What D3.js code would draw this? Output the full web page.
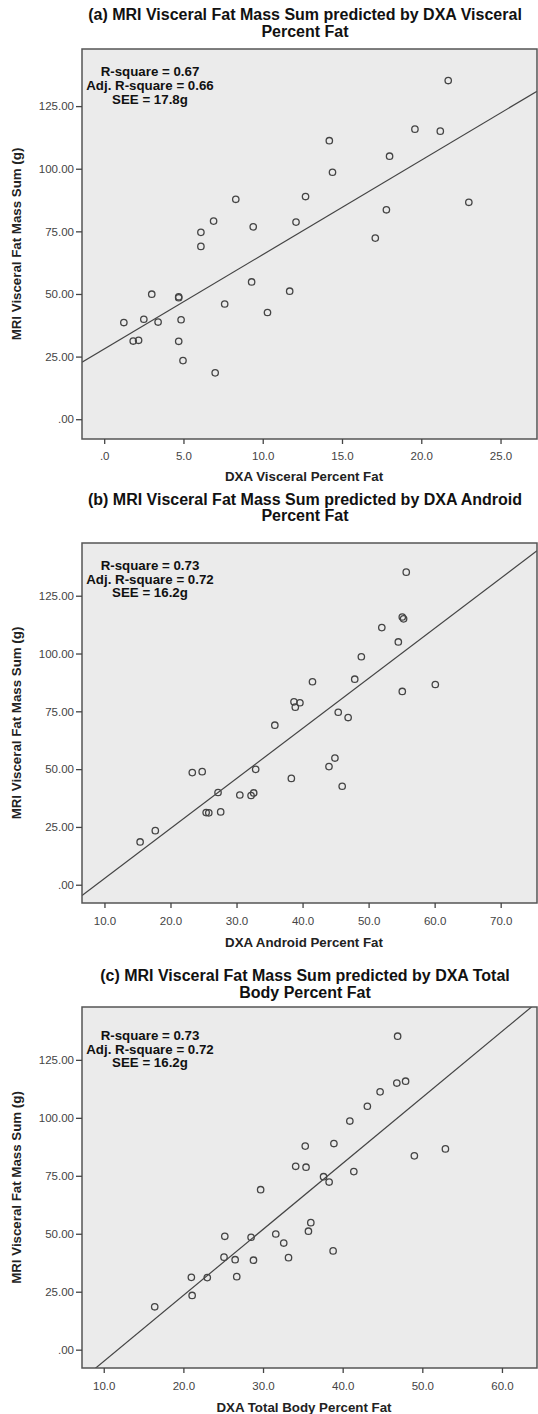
<!DOCTYPE html>
<html>
<head>
<meta charset="utf-8">
<script src="https://cdn.jsdelivr.net/npm/d3@7"></script>
<style>
  html, body { margin: 0; padding: 0; background: #ffffff; }
  svg { display: block; }
  text { font-family: "Liberation Sans", Arial, sans-serif; }
</style>
</head>
<body>
<svg id="chart" width="538" height="1414"></svg>
<script>
// ---------- DATA ----------
const mriVisceralFat = [135.2,115.8,115.0,111.2,105.0,98.6,88.9,87.8,86.6,83.6,79.1,78.7,76.8,74.6,72.3,69.0,54.8,51.1,49.9,48.9,48.5,46.0,42.6,39.9,39.7,38.8,38.6,31.5,31.2,31.1,23.4,18.5];
const dxaVisceralPct = [21.7,19.6,21.2,14.2,18.0,14.4,12.7,8.3,23.0,17.8,6.9,12.1,9.4,6.1,17.1,6.1,9.3,11.7,3.0,4.7,4.7,7.6,10.3,2.5,4.85,3.4,1.24,2.17,1.83,4.7,4.97,7.0];
const dxaAndroidPct  = [55.7,55.1,55.3,52.0,54.5,48.9,47.9,41.5,60.1,55.1,38.7,39.6,38.9,45.4,46.9,35.8,44.9,44.0,32.9,24.8,23.3,38.3,46.0,27.2,32.6,30.5,32.2,27.6,25.4,25.8,17.7,15.4];
const dxaTotalPct    = [46.9,47.9,46.8,44.7,43.1,40.9,38.9,35.3,52.9,49.0,34.1,35.4,41.4,37.6,38.3,29.7,36.0,35.7,31.6,25.2,28.5,32.6,38.8,25.1,33.2,26.5,28.8,26.7,21.0,23.0,21.1,16.4];

// fitted regression lines as drawn in the picture: [intercept, slope]
const fitLineA = [28.0, 3.77];
const fitLineB = [-19.0, 2.165];
const fitLineC = [-33.5, 2.846];

const yTickValues = [0, 25, 50, 75, 100, 125];
const yTickLabels = [".00", "25.00", "50.00", "75.00", "100.00", "125.00"];

const xTicksA = [0, 5, 10, 15, 20, 25];
const xTickLabelsA = [".0", "5.0", "10.0", "15.0", "20.0", "25.0"];
const xTicksB = [10, 20, 30, 40, 50, 60, 70];
const xTickLabelsB = ["10.0", "20.0", "30.0", "40.0", "50.0", "60.0", "70.0"];
const xTicksC = [10, 20, 30, 40, 50, 60];
const xTickLabelsC = ["10.0", "20.0", "30.0", "40.0", "50.0", "60.0"];

const titlesA = ["(a) MRI Visceral Fat Mass Sum predicted by DXA Visceral", "Percent Fat"];
const titlesB = ["(b) MRI Visceral Fat Mass Sum predicted by DXA Android", "Percent Fat"];
const titlesC = ["(c) MRI Visceral Fat Mass Sum predicted by DXA Total", "Body Percent Fat"];

const statsA = ["R-square = 0.67", "Adj. R-square = 0.66", "SEE = 17.8g"];
const statsB = ["R-square = 0.73", "Adj. R-square = 0.72", "SEE = 16.2g"];
const statsC = ["R-square = 0.73", "Adj. R-square = 0.72", "SEE = 16.2g"];

const xLabelA = "DXA Visceral Percent Fat";
const xLabelB = "DXA Android Percent Fat";
const xLabelC = "DXA Total Body Percent Fat";
const yLabel = "MRI Visceral Fat Mass Sum (g)";

// ---------- LAYOUT ----------
const svg = d3.select("#chart");
const plotLeft = 82, plotRight = 537;
const titleX = 305, xLabelX = 304, yLabelX = 21, statsX = 150;

const panels = [
  { x: dxaVisceralPct, fitLine: fitLineA, titles: titlesA, stats: statsA, xLabel: xLabelA,
    xTicks: xTicksA, xTickLabels: xTickLabelsA, xDomain: [-1.4, 27.3],
    top: 49, bottom: 439, titleY: [20, 36.5], statsY: [76, 90, 104],
    tickLabelY: 460, xLabelY: 481 },
  { x: dxaAndroidPct, fitLine: fitLineB, titles: titlesB, stats: statsB, xLabel: xLabelB,
    xTicks: xTicksB, xTickLabels: xTickLabelsB, xDomain: [6.6, 75.5],
    top: 543, bottom: 903, titleY: [504.5, 521], statsY: [570, 584, 597],
    tickLabelY: 924.5, xLabelY: 947 },
  { x: dxaTotalPct, fitLine: fitLineC, titles: titlesC, stats: statsC, xLabel: xLabelC,
    xTicks: xTicksC, xTickLabels: xTickLabelsC, xDomain: [7.27, 64.4],
    top: 1007, bottom: 1368, titleY: [981, 997.5], statsY: [1039.5, 1053.5, 1067],
    tickLabelY: 1389.5, xLabelY: 1411.5 }
];
const yDomain = [-7.9, 147.8];

panels.forEach((p, pi) => {
  const xScale = d3.scaleLinear().domain(p.xDomain).range([plotLeft, plotRight]);
  const yScale = d3.scaleLinear().domain(yDomain).range([p.bottom, p.top]);
  const g = svg.append("g");

  // title
  g.selectAll("text.title").data(p.titles).join("text")
    .attr("class", "title")
    .attr("x", titleX).attr("y", (d, i) => p.titleY[i])
    .attr("text-anchor", "middle")
    .attr("font-size", 16).attr("font-weight", "bold").attr("fill", "#111")
    .text(d => d);

  // plot background
  const clipId = "clip" + pi;
  g.append("clipPath").attr("id", clipId).append("rect")
    .attr("x", plotLeft).attr("y", p.top)
    .attr("width", plotRight - plotLeft).attr("height", p.bottom - p.top);
  g.append("rect")
    .attr("x", plotLeft).attr("y", p.top)
    .attr("width", plotRight - plotLeft).attr("height", p.bottom - p.top)
    .attr("fill", "#ebebeb");

  // regression line
  const [b0, b1] = p.fitLine;
  const line = d3.line().x(d => xScale(d)).y(d => yScale(b0 + b1 * d));
  g.append("path")
    .attr("d", line(p.xDomain))
    .attr("clip-path", `url(#${clipId})`)
    .attr("fill", "none").attr("stroke", "#444").attr("stroke-width", 1.2);

  // points
  g.selectAll("circle").data(p.x).join("circle")
    .attr("cx", d => xScale(d))
    .attr("cy", (d, i) => yScale(mriVisceralFat[i]))
    .attr("r", 3.2)
    .attr("fill", "none").attr("stroke", "#444").attr("stroke-width", 1.3);

  // frame
  g.append("rect")
    .attr("x", plotLeft).attr("y", p.top)
    .attr("width", plotRight - plotLeft).attr("height", p.bottom - p.top)
    .attr("fill", "none").attr("stroke", "#555").attr("stroke-width", 1.5);

  // y axis
  const yAxis = d3.axisLeft(yScale).tickValues(yTickValues)
    .tickFormat((d, i) => yTickLabels[i]).tickSize(6).tickPadding(2);
  const ya = g.append("g").attr("transform", `translate(${plotLeft},0)`).call(yAxis);
  ya.select(".domain").remove();
  ya.selectAll("line").attr("stroke", "#444").attr("stroke-width", 1.3);
  ya.selectAll("text").attr("font-size", 11.5).attr("fill", "#444")
    .attr("font-family", "Liberation Sans, Arial, sans-serif");

  // x axis
  const xAxis = d3.axisBottom(xScale).tickValues(p.xTicks)
    .tickFormat((d, i) => p.xTickLabels[i]).tickSize(5).tickPadding(0);
  const xa = g.append("g").attr("transform", `translate(0,${p.bottom})`).call(xAxis);
  xa.select(".domain").remove();
  xa.selectAll("line").attr("stroke", "#444").attr("stroke-width", 1.3);
  xa.selectAll("text").attr("font-size", 11.5).attr("fill", "#444")
    .attr("font-family", "Liberation Sans, Arial, sans-serif")
    .attr("dy", null).attr("y", p.tickLabelY - p.bottom);

  // stats annotation
  g.selectAll("text.stats").data(p.stats).join("text")
    .attr("class", "stats")
    .attr("x", statsX).attr("y", (d, i) => p.statsY[i])
    .attr("text-anchor", "middle")
    .attr("font-size", 13.3).attr("font-weight", "bold").attr("fill", "#111")
    .text(d => d);

  // x label
  g.append("text")
    .attr("x", xLabelX).attr("y", p.xLabelY)
    .attr("text-anchor", "middle")
    .attr("font-size", 13.3).attr("font-weight", "bold").attr("fill", "#222")
    .text(p.xLabel);

  // y label
  g.append("text")
    .attr("transform", `translate(${yLabelX},${(p.top + p.bottom) / 2}) rotate(-90)`)
    .attr("text-anchor", "middle")
    .attr("font-size", 13.3).attr("font-weight", "bold").attr("fill", "#222")
    .text(yLabel);
});
</script>
</body>
</html>
